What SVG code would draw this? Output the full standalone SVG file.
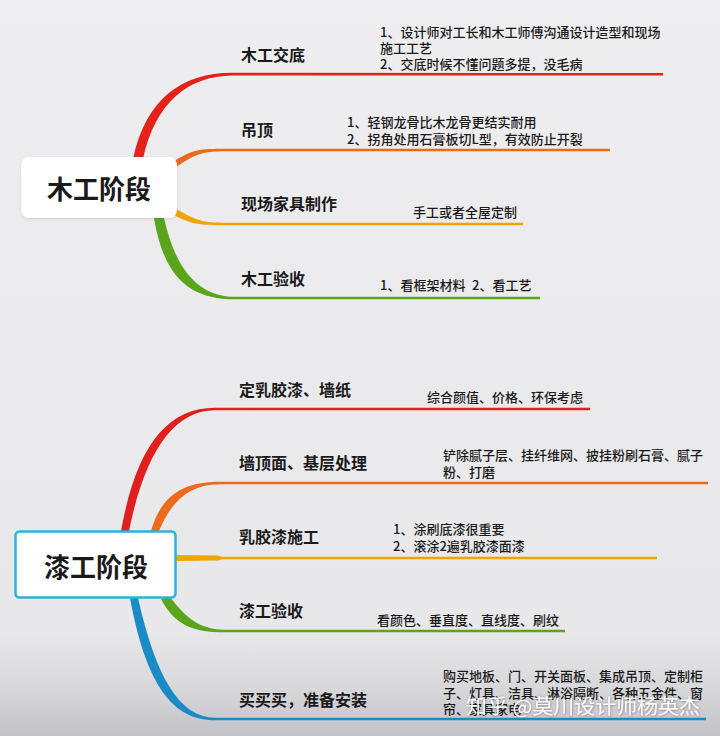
<svg xmlns="http://www.w3.org/2000/svg" width="720" height="736" viewBox="0 0 720 736">
<defs>
<linearGradient id="bg" x1="0" y1="0" x2="0" y2="1">
<stop offset="0" stop-color="#eeeef0"/>
<stop offset="0.86" stop-color="#e8e8ea"/>
<stop offset="0.93" stop-color="#d9d9dc"/>
<stop offset="1" stop-color="#c3c3c7"/>
</linearGradient>
<filter id="sh" x="-10%" y="-20%" width="120%" height="140%">
<feDropShadow dx="0" dy="1" stdDeviation="1.5" flood-color="#000" flood-opacity="0.12"/>
</filter>
<filter id="wmsh" x="-5%" y="-30%" width="110%" height="160%">
<feDropShadow dx="0.5" dy="0.5" stdDeviation="0.8" flood-color="#333" flood-opacity="0.55"/>
</filter>
</defs>
<style>
text{font-family:"Noto Sans CJK SC","Noto Sans",sans-serif;fill:#1a1a1a}
.root{font-size:26px;font-weight:700;text-anchor:middle}
.lbl{font-size:16px;font-weight:700}
.det{font-size:13px;font-weight:500}
.wm{font-size:20px;fill:#ffffff;fill-opacity:0.92;font-weight:400}
</style>
<rect x="0" y="0" width="720" height="736" fill="url(#bg)"/>

<g id="connectors">
<path d="M133,159 C146,98 183,72.7 232,72.8 L663,73 L663,75.5 L232,75.5 C188,76 155,103 143,159 Z" fill="#e4211b"/>
<path d="M174,161 C193,149.5 200,148.7 225,148.7 L610,148.8 L610,151.3 L225,151.3 C202,151.3 196,154 176,167 Z" fill="#ec6a1c"/>
<path d="M176,208.5 C196,221 204,222.7 225,222.7 L523,222.8 L523,225.3 L225,225.3 C200,225.3 190,224 175,215.5 Z" fill="#f0a400"/>
<path d="M154,218 C164,278 190,299.3 235,299.3 L540,299.3 L540,296.8 L235,296.8 C200,296.8 176,272 164,218 Z" fill="#5ba51d"/>
<path d="M121,531 C136,448 166,407.7 215,407.7 L590,407.7 L590,410.3 L215,410.3 C174,410.3 145,452 129,531 Z" fill="#e01f1f"/>
<path d="M151,531 C161,496 182,481.7 220,481.7 L708,481.7 L708,484.3 L220,484.3 C190,484.3 172,500 159,531 Z" fill="#ec6a1c"/>
<path d="M176,555 L218,555.5 L222,556.7 L657,556.7 L657,559.3 L222,559.3 L218,560.5 L176,561 Z" fill="#f0a400"/>
<path d="M161,599 C175,625 192,632.3 225,632.3 L565,632.3 L565,629.7 L225,629.7 C200,629.7 186,618 170,597 Z" fill="#5ba51d"/>
<path d="M130,598 C146,684 172,720.3 215,720.3 L706,720.3 L706,717.7 L215,717.7 C180,717.7 156,678 138,598 Z" fill="#1b8bc6"/>
</g>

<g id="root-mugong">
<rect x="21" y="157" width="156" height="61" rx="8" fill="#ffffff" filter="url(#sh)"/>
<text class="root" x="99" y="199">木工阶段</text>
</g>
<g id="mugong-jiaodi">
<text class="lbl" x="241" y="61">木工交底</text>
<text class="det" x="380" y="37">1、设计师对工长和木工师傅沟通设计造型和现场</text>
<text class="det" x="380" y="53">施工工艺</text>
<text class="det" x="380" y="69">2、交底时候不懂问题多提，没毛病</text>
</g>
<g id="mugong-diaoding">
<text class="lbl" x="241" y="136">吊顶</text>
<text class="det" x="347" y="127">1、轻钢龙骨比木龙骨更结实耐用</text>
<text class="det" x="347" y="144">2、拐角处用石膏板切L型，有效防止开裂</text>
</g>
<g id="mugong-jiaju">
<text class="lbl" x="241" y="210">现场家具制作</text>
<text class="det" x="413" y="217">手工或者全屋定制</text>
</g>
<g id="mugong-yanshou">
<text class="lbl" x="241" y="285">木工验收</text>
<text class="det" x="380" y="290">1、看框架材料<tspan x="472">2、看工艺</tspan></text>
</g>

<g id="root-qigong">
<rect x="15.5" y="531.5" width="160" height="66" rx="4" fill="#ffffff" stroke="#2bb3d6" stroke-width="2.5"/>
<text class="root" x="96" y="577">漆工阶段</text>
</g>
<g id="qigong-ruijiaoqi">
<text class="lbl" x="239" y="396">定乳胶漆、墙纸</text>
<text class="det" x="427" y="402">综合颜值、价格、环保考虑</text>
</g>
<g id="qigong-jiceng">
<text class="lbl" x="239" y="469">墙顶面、基层处理</text>
<text class="det" x="443" y="460">铲除腻子层、挂纤维网、披挂粉刷石膏、腻子</text>
<text class="det" x="443" y="477">粉、打磨</text>
</g>
<g id="qigong-shigong">
<text class="lbl" x="239" y="543">乳胶漆施工</text>
<text class="det" x="393" y="534">1、涂刷底漆很重要</text>
<text class="det" x="393" y="551">2、滚涂2遍乳胶漆面漆</text>
</g>
<g id="qigong-yanshou">
<text class="lbl" x="239" y="617">漆工验收</text>
<text class="det" x="377" y="625">看颜色、垂直度、直线度、刷纹</text>
</g>
<g id="qigong-anzhuang">
<text class="lbl" x="239" y="706">买买买，准备安装</text>
<text class="det" x="443" y="681">购买地板、门、开关面板、集成吊顶、定制柜</text>
<text class="det" x="443" y="698">子、灯具、洁具、淋浴隔断、各种五金件、窗</text>
<text class="det" x="443" y="714">帘、家具家电</text>
</g>

<text id="watermark" class="wm" x="466" y="714" textLength="234" lengthAdjust="spacingAndGlyphs" filter="url(#wmsh)">知乎 @莫川设计师杨英杰</text>
</svg>
